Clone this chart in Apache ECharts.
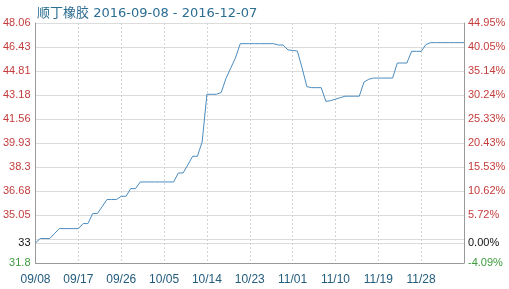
<!DOCTYPE html>
<html>
<head>
<meta charset="utf-8">
<script src="https://cdn.jsdelivr.net/npm/echarts@6/dist/echarts.min.js"></script>
<style>
html,body{margin:0;padding:0;background:#fff;}
#chart{width:509px;height:289px;}
</style>
</head>
<body>
<div id="chart"></div>
<script>
var titleText = '顺丁橡胶 2016-09-08 - 2016-12-07';
var startDate = '2016-09-08';
var dayCount = 91;

var prices = [
  33.16, 33.46, 33.46, 33.46, 33.80, 34.13, 34.13, 34.13, 34.13, 34.13,
  34.47, 34.47, 35.15, 35.15, 35.62, 36.10, 36.10, 36.10, 36.32, 36.32,
  36.84, 36.84, 37.29, 37.29, 37.29, 37.29, 37.29, 37.29, 37.29, 37.29,
  37.90, 37.90, 38.45, 39.03, 39.03, 40.00, 43.23, 43.23, 43.23, 43.35,
  44.30, 45.00, 45.70, 46.66, 46.66, 46.66, 46.66, 46.66, 46.66, 46.66,
  46.66, 46.57, 46.57, 46.24, 46.20, 46.16, 45.00, 43.75, 43.68, 43.68,
  43.68, 42.75, 42.80, 42.90, 43.00, 43.10, 43.10, 43.10, 43.10, 44.06,
  44.25, 44.33, 44.33, 44.33, 44.33, 44.33, 45.35, 45.35, 45.35, 46.14,
  46.14, 46.14, 46.60, 46.73, 46.73, 46.73, 46.73, 46.73, 46.73, 46.73,
  46.73
];

var yMin = 31.8;
var yMax = 48.06;
var leftTickValues = [31.8, 33.16, 35.052, 36.678, 38.304, 39.93, 41.556, 43.182, 44.808, 46.434, 48.06];
var leftTickLabels = ['31.8', '33', '35.05', '36.68', '38.3', '39.93', '41.56', '43.18', '44.81', '46.43', '48.06'];
var rightTickLabels = ['-4.09%', '0.00%', '5.72%', '10.62%', '15.53%', '20.43%', '25.33%', '30.24%', '35.14%', '40.05%', '44.95%'];
var gridValues = [31.8, 33.16, 33.426, 35.052, 36.678, 38.304, 39.93, 41.556, 43.182, 44.808, 46.434, 48.06];
var labelEvery = 9;

// categories
var categories = [];
(function(){
  var d = new Date(startDate + 'T00:00:00Z');
  for (var i = 0; i < dayCount; i++) {
    var dd = new Date(d.getTime() + i * 86400000);
    var m = ('0' + (dd.getUTCMonth() + 1)).slice(-2);
    var day = ('0' + dd.getUTCDate()).slice(-2);
    categories.push(m + '/' + day);
  }
})();

function nearestIdx(v) {
  v = parseFloat(v);
  var best = 0, bd = Infinity;
  for (var i = 0; i < leftTickValues.length; i++) {
    var dd = Math.abs(leftTickValues[i] - v);
    if (dd < bd) { bd = dd; best = i; }
  }
  return best;
}
function labelColor(v) {
  var i = nearestIdx(v);
  if (i === 0) return '#3d9a3d';
  if (i === 1) return '#111111';
  return '#c43c3c';
}
function showLabel(i) { return i % labelEvery === 0 && i < dayCount - 1; }

var chart = echarts.init(document.getElementById('chart'), null, {renderer: 'canvas'});
chart.setOption({
  animation: false,
  backgroundColor: '#ffffff',
  title: {
    text: titleText,
    left: 32,
    top: 2,
    textStyle: {
      fontFamily: 'DejaVu Sans, Noto Sans CJK SC, sans-serif',
      fontSize: 13,
      fontWeight: 'normal',
      color: '#2c6d92'
    }
  },
  grid: {left: 34, right: 45, top: 23, bottom: 26, containLabel: false},
  xAxis: {
    type: 'category',
    data: categories,
    boundaryGap: false,
    axisLine: {show: true, lineStyle: {color: '#999999', width: 1}},
    axisTick: {show: false, interval: function(i){ return showLabel(i); }},
    axisLabel: {
      interval: function(i){ return showLabel(i); },
      margin: 11,
      color: '#235c7c',
      fontFamily: 'Liberation Sans, Arial, sans-serif',
      fontSize: 12
    },
    splitLine: {
      show: true,
      interval: function(i){ return showLabel(i); },
      lineStyle: {color: '#d4d4d4', type: [2, 2], width: 1}
    }
  },
  yAxis: [
    {
      type: 'value',
      min: yMin,
      max: yMax,
      axisLine: {show: true, lineStyle: {color: '#999999', width: 1}},
      axisTick: {show: false, customValues: gridValues},
      axisLabel: {
        customValues: leftTickValues,
        margin: 5,
        fontFamily: 'Liberation Sans, Arial, sans-serif',
        fontSize: 11,
        formatter: function(v){ return leftTickLabels[nearestIdx(v)]; },
        color: function(v){ return labelColor(v); }
      },
      splitLine: {show: true, lineStyle: {color: '#dcdcdc', width: 1}}
    },
    {
      type: 'value',
      min: yMin,
      max: yMax,
      position: 'right',
      axisLine: {show: true, lineStyle: {color: '#999999', width: 1}},
      axisTick: {show: false, customValues: leftTickValues},
      axisLabel: {
        customValues: leftTickValues,
        margin: 4,
        fontFamily: 'Liberation Sans, Arial, sans-serif',
        fontSize: 11,
        formatter: function(v){ return rightTickLabels[nearestIdx(v)]; },
        color: function(v){ return labelColor(v); }
      },
      splitLine: {show: false}
    }
  ],
  series: [{
    type: 'line',
    data: prices,
    yAxisIndex: 0,
    symbol: 'none',
    lineStyle: {color: '#4a8cc0', width: 1},
    silent: true
  }]
});
</script>
</body>
</html>
